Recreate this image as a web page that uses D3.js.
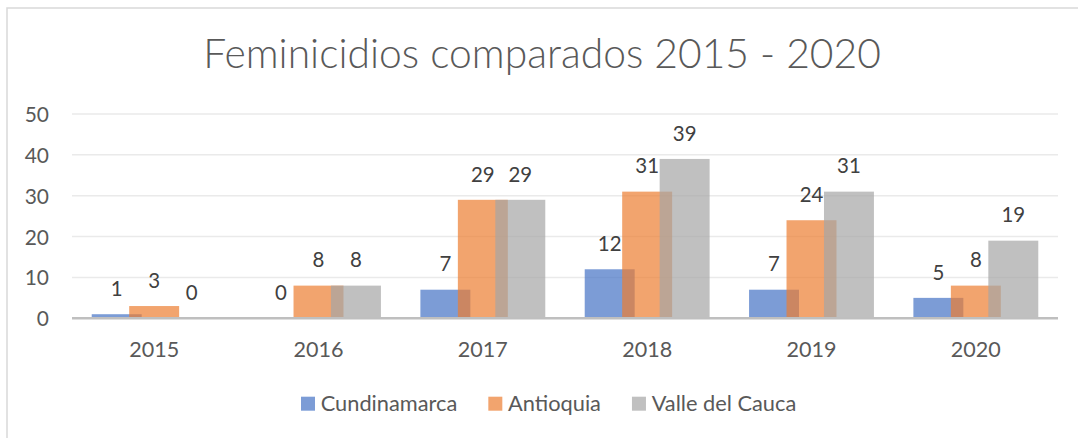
<!DOCTYPE html>
<html>
<head>
<meta charset="utf-8">
<script src="https://cdn.jsdelivr.net/npm/d3@7"></script>
<style>
  html, body { margin: 0; padding: 0; background: #ffffff; }
  svg { display: block; }
</style>
</head>
<body>
<svg id="chart" width="1078" height="438"></svg>
<script>
// ---- data ----
const title = "Feminicidios comparados 2015 - 2020";
const years = ["2015", "2016", "2017", "2018", "2019", "2020"];
const seriesNames = ["Cundinamarca", "Antioquia", "Valle del Cauca"];
const cundinamarca = [1, 0, 7, 12, 7, 5];
const antioquia = [3, 8, 29, 31, 24, 8];
const valleDelCauca = [0, 8, 29, 39, 31, 19];
const yTicks = [0, 10, 20, 30, 40, 50];
const seriesValues = [cundinamarca, antioquia, valleDelCauca];
const seriesColors = ["#4472C4", "#ED7D31", "#A5A5A5"];

const FONT = "Lato, 'Open Sans', 'Noto Sans', sans-serif";
const svg = d3.select("#chart");

// helper: font-size that makes a string reach a target width
function fitSize(text, targetWidth, weight) {
  const t = svg.append("text").attr("font-family", FONT).attr("font-size", 100)
    .attr("font-weight", weight || 400).text(text);
  const w = t.node().getComputedTextLength();
  t.remove();
  return 100 * targetWidth / w;
}

// chart frame (only top/left edges visible)
svg.append("rect").attr("x", 7).attr("y", 8).attr("width", 1200).attr("height", 600)
  .attr("fill", "none").attr("stroke", "#d9d9d9").attr("stroke-width", 1.5);

// scales
const x = d3.scaleBand().domain(years).range([72, 1058]).paddingInner(0).paddingOuter(0);
const y = d3.scaleLinear().domain([0, 50]).range([318.3, 114]);
const barW = x.bandwidth() * 0.304;
const barStep = barW * 0.75;
const groupW = barW + barStep * (seriesNames.length - 1);

// gridlines
svg.append("g").selectAll("line").data(yTicks.filter(d => d > 0)).join("line")
  .attr("x1", 72).attr("x2", 1058)
  .attr("y1", d => y(d)).attr("y2", d => y(d))
  .attr("stroke", "#eaeaea").attr("stroke-width", 1.5);

// y axis labels
const yAxis = d3.axisLeft(y).tickValues(yTicks).tickSize(0).tickPadding(0).tickFormat(d3.format("d"));
const yg = svg.append("g").attr("transform", "translate(49,0)").call(yAxis);
yg.select(".domain").remove();
yg.selectAll("text").attr("font-family", FONT).attr("font-size", fitSize("50", 24.3))
  .attr("fill", "#595959").attr("dy", "0.36em").attr("x", 0);

// bars
const gBars = svg.append("g");
seriesValues.forEach((vals, si) => {
  gBars.append("g").selectAll("rect").data(years.map((yr, i) => ({ yr, v: vals[i] }))).join("rect")
    .attr("x", d => x(d.yr) + x.bandwidth() / 2 - groupW / 2 + si * barStep)
    .attr("width", barW)
    .attr("y", d => y(d.v))
    .attr("height", d => y(0) - y(d.v))
    .attr("fill", seriesColors[si]).attr("fill-opacity", 0.7);
});

// x axis baseline and labels
const xAxis = d3.axisBottom(x).tickSize(0).tickPadding(0);
const xg = svg.append("g").attr("transform", `translate(0,${y(0)})`).call(xAxis);
xg.select(".domain").attr("stroke", "#bfbfbf").attr("stroke-width", 2.6)
  .attr("d", "M72,0H1058");
xg.selectAll("text").attr("font-family", FONT).attr("font-size", fitSize("2015", 50))
  .attr("fill", "#595959").attr("y", 38.7).attr("dy", 0);

// data labels
const labelSize = fitSize("39", 23.7);
const gLabels = svg.append("g");
seriesValues.forEach((vals, si) => {
  gLabels.append("g").selectAll("text").data(years.map((yr, i) => ({ yr, v: vals[i] }))).join("text")
    .attr("x", d => x(d.yr) + x.bandwidth() / 2 - groupW / 2 + si * barStep + barW / 2)
    .attr("y", d => y(d.v) - 18.3)
    .attr("text-anchor", "middle")
    .attr("font-family", FONT).attr("font-size", labelSize).attr("fill", "#404040")
    .text(d => d.v);
});

// title
svg.append("text").attr("x", 542).attr("y", 68.3).attr("text-anchor", "middle")
  .attr("font-family", FONT).attr("font-weight", 300)
  .attr("font-size", fitSize(title, 678, 300)).attr("fill", "#595959").text(title);

// legend
const legSize = fitSize("Antioquia", 93);
const legend = svg.append("g");
let lx = 301;
seriesNames.forEach((name, si) => {
  legend.append("rect").attr("x", lx).attr("y", 396.7).attr("width", 14).attr("height", 14)
    .attr("fill", seriesColors[si]).attr("fill-opacity", 0.7);
  const t = legend.append("text").attr("x", lx + 19.7).attr("y", 410.6)
    .attr("font-family", FONT).attr("font-size", legSize).attr("fill", "#595959").text(name);
  lx += 19.7 + t.node().getComputedTextLength() + 31;
});
</script>
</body>
</html>
